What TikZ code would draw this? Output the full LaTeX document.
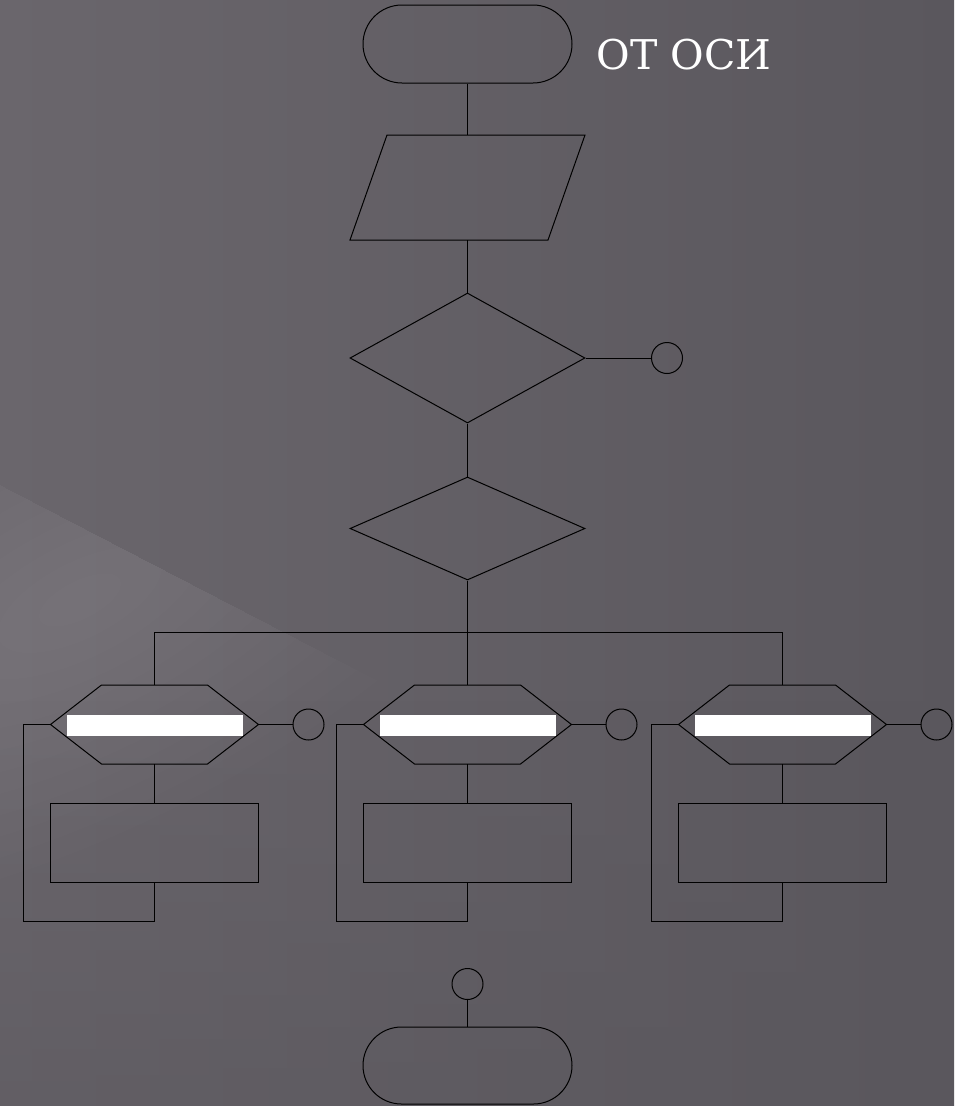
\documentclass[tikz,border=0pt]{standalone}
\usepackage{fontspec}
\newfontfamily\ruserif{DejaVu Serif}
\usetikzlibrary{shapes.geometric,shapes.misc,calc,fadings}
\definecolor{bgA}{RGB}{106,102,108}
\definecolor{bgB}{RGB}{90,87,93}
\definecolor{bgL}{RGB}{150,147,153}
\begin{document}
\begin{tikzpicture}[x=1pt,y=-1pt,line width=1pt,
  term/.style={rounded rectangle,draw=black,minimum width=209pt,minimum height=78pt,inner sep=0pt},
  frame/.style={draw=none,inner sep=0pt,outer sep=0pt},
  dec/.style={diamond,draw=black,inner sep=0pt,minimum width=235pt},
  conn/.style={circle,draw=black,inner sep=0pt,minimum size=31pt},
  proc/.style={rectangle,draw=black,inner sep=0pt,minimum width=208pt,minimum height=79pt},
  bar/.style={rectangle,fill=white,draw=none,inner sep=0pt,minimum width=176pt,minimum height=21pt},
  title/.style={text=white,font=\ruserif\fontsize{41}{46}\selectfont,inner sep=0pt}]
% background
\useasboundingbox (0,0) rectangle (954,1106);
\shade[left color=bgA,right color=bgB] (0,0) rectangle (954,1106);
\fill[bgB,opacity=0.5,path fading=north] (0,700) rectangle (954,1106);
\begin{scope}
  \clip (0,485) -- (954,980) -- (954,1106) -- (0,1106) -- cycle;
  \foreach \k in {1,...,12}{
    \fill[bgL,opacity=0.03,rotate around={27:(80,600)}] (80,600) ellipse [x radius=45*\k, y radius=19*\k];
  }
\end{scope}
% shapes
\node[term] (start) at (467.5,44) {};
\node[frame,minimum width=235pt,minimum height=105pt] (io) at (467.5,187.5) {};
\draw (io.south west) -- ($(io.north west)+(37,0)$) -- (io.north east) -- ($(io.south east)+(-37,0)$) -- cycle;
\node[dec,minimum height=130pt] (d1) at (467.5,358) {};
\node[conn] (c0) at (667,358) {};
\node[dec,minimum height=103pt] (d2) at (467.5,528.5) {};
\coordinate (br) at (467.5,632);
\node[title,anchor=base west] (ttl) at (596,69) {ОТ ОСИ};
\draw (start) -- (io);
\draw (io) -- (d1);
\draw (d1) -- (c0);
\draw (d1) -- (d2);
\draw (d2) -- (br);
\foreach \i/\x in {1/154.5,2/467.5,3/782.5}{
  \node[frame,minimum width=208pt,minimum height=79pt] (h\i) at (\x,724.5) {};
  \draw (h\i.west) -- ($(h\i.north west)+(51,0)$) -- ($(h\i.north east)+(-51,0)$) -- (h\i.east)
        -- ($(h\i.south east)+(-51,0)$) -- ($(h\i.south west)+(51,0)$) -- cycle;
  \node[bar] (b\i) at ($(h\i)+(0,1)$) {};
  \node[conn] (c\i) at ($(h\i.east)+(50,0)$) {};
  \node[proc] (r\i) at (\x,842.5) {};
  \draw (h\i.east) -- (c\i);
  \draw (h\i.south) -- (r\i);
  \draw (r\i.south) -- ++(0,39) -| ($(h\i.west)+(-27,0)$) -- (h\i.west);
}
\draw (h1.north) -- (h1.north |- br) -- (h3.north |- br) -- (h3.north);
\draw (br) -- (h2.north);
\node[conn] (ce) at (467.5,984) {};
\node[term,minimum height=77pt] (stop) at (467.5,1065.5) {};
\draw (ce) -- (stop);
\end{tikzpicture}
\end{document}
